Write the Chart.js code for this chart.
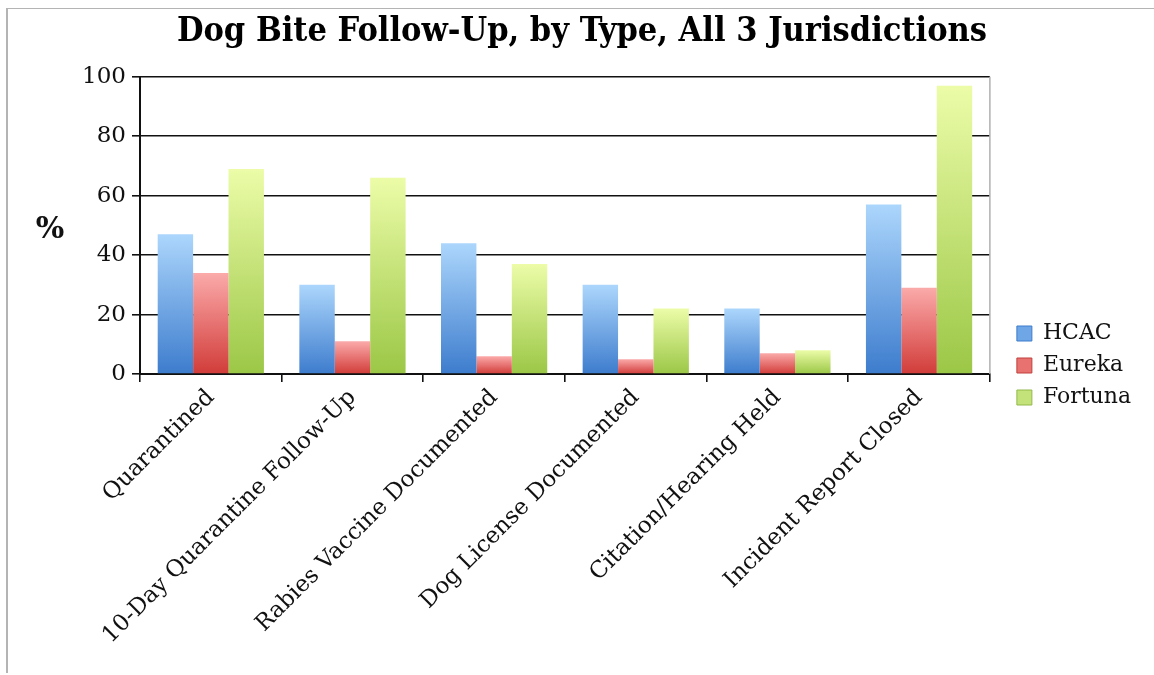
<!DOCTYPE html>
<html>
<head>
<meta charset="utf-8">
<script src="https://cdn.jsdelivr.net/npm/chart.js@4.4.0/dist/chart.umd.min.js"></script>
<style>
  html, body { margin: 0; padding: 0; background: #fff; }
  #frame { position: absolute; left: 6px; top: 8px; width: 1160px; height: 664px;
           border-top: 1px solid #b4b4b4; border-left: 2px solid #b4b4b4; }
  #wrap { position: absolute; left: 0; top: 0; width: 1154px; height: 675px; }
</style>
</head>
<body>
<div id="frame"></div>
<div id="wrap"><canvas id="chart"></canvas></div>
<script>
// 데이터
const categories = ['Quarantined', '10-Day Quarantine Follow-Up', 'Rabies Vaccine Documented',
                    'Dog License Documented', 'Citation/Hearing Held', 'Incident Report Closed'];
const hcac = [47, 30, 44, 30, 22, 57];
const eureka = [34, 11, 6, 5, 7, 29];
const fortuna = [69, 66, 37, 22, 8, 97];
const yTicks = [0, 20, 40, 60, 80, 100];

// 막대별 세로 그라데이션 (위: 밝게, 아래: 진하게)
function barGradient(light, dark, solid) {
    return function(ctx) {
        const chart = ctx.chart;
        if (ctx.type !== 'data' || !chart.chartArea) return solid;
        const y = chart.scales.y;
        const top = y.getPixelForValue(ctx.raw);
        const base = y.getPixelForValue(0);
        if (!isFinite(top) || base - top < 1) return solid;
        const g = chart.ctx.createLinearGradient(0, top, 0, base);
        g.addColorStop(0, light);
        g.addColorStop(1, dark);
        return g;
    };
}

// "%" 축 제목, 오른쪽 테두리, 범례 위치 보정
const extras = {
    id: 'extras',
    afterLayout(chart) {
        // 범례를 플롯 영역에서 조금 떨어뜨리고 아래로 내림
        const lg = chart.legend;
        if (lg) {
            lg.left += 17; lg.right += 17;
            lg.top += 28; lg.bottom += 28;
        }
    },
    afterDraw(chart) {
        const c = chart.ctx;
        const a = chart.chartArea;
        c.save();
        c.strokeStyle = '#b0b0b0';
        c.lineWidth = 1.5;
        c.beginPath();
        c.moveTo(a.right, a.top);
        c.lineTo(a.right, a.bottom);
        c.stroke();
        c.fillStyle = '#111';
        c.font = 'bold 30px "DejaVu Serif"';
        c.textAlign = 'center';
        c.textBaseline = 'middle';
        c.fillText('%', 50, 230);
        c.restore();
    }
};

new Chart(document.getElementById('chart').getContext('2d'), {
    type: 'bar',
    data: {
        labels: categories,
        datasets: [
            { label: 'HCAC', data: hcac,
              backgroundColor: barGradient('#acd6fc', '#3d7ccd', '#6fa6e6'), borderWidth: 0 },
            { label: 'Eureka', data: eureka,
              backgroundColor: barGradient('#fbaaaa', '#d13c39', '#e87270'), borderWidth: 0 },
            { label: 'Fortuna', data: fortuna,
              backgroundColor: barGradient('#ecfca8', '#9bc746', '#c4e27a'), borderWidth: 0 }
        ]
    },
    options: {
        responsive: true,
        maintainAspectRatio: false,
        animation: false,
        datasets: { bar: { categoryPercentage: 0.75, barPercentage: 1.0 } },
        layout: { padding: { left: 40, right: 30, top: 0, bottom: 0 } },
        scales: {
            y: {
                min: 0, max: 100,
                afterBuildTicks: function(scale) {
                    scale.ticks = yTicks.map(v => ({ value: v }));
                },
                afterFit: function(scale) { scale.width = 100; },
                border: { display: true, color: '#111', width: 2 },
                grid: { color: '#111', lineWidth: 1.6, tickLength: 8 },
                ticks: { color: '#111', padding: 6, font: { family: 'DejaVu Serif', size: 23 } }
            },
            x: {
                afterFit: function(scale) { scale.height = 301; },
                border: { display: true, color: '#111', width: 2 },
                grid: { display: true, drawOnChartArea: false, drawTicks: true, tickLength: 8, color: '#111', lineWidth: 1.6 },
                ticks: { color: '#111', minRotation: 45, maxRotation: 45, padding: 2,
                         font: { family: 'DejaVu Serif', size: 23 } }
            }
        },
        plugins: {
            title: {
                display: true,
                text: 'Dog Bite Follow-Up, by Type, All 3 Jurisdictions',
                color: '#000',
                font: { family: 'DejaVu Serif Condensed', weight: 'bold', size: 34 },
                padding: { top: 12, bottom: 24 }
            },
            legend: {
                position: 'right',
                align: 'center',
                labels: {
                    color: '#111',
                    boxWidth: 15, boxHeight: 15,
                    padding: 10,
                    font: { family: 'DejaVu Serif', size: 22 },
                    generateLabels: function(chart) {
                        const mids = ['#6fa6e6', '#e87270', '#c4e27a'];
                        const edges = ['#3d7ccd', '#c0403d', '#93b84a'];
                        return chart.data.datasets.map((ds, i) => ({
                            text: ds.label, fillStyle: mids[i], strokeStyle: edges[i],
                            lineWidth: 1, datasetIndex: i, fontColor: '#111'
                        }));
                    }
                }
            },
            tooltip: { enabled: false }
        }
    },
    plugins: [extras]
});
</script>
</body>
</html>
